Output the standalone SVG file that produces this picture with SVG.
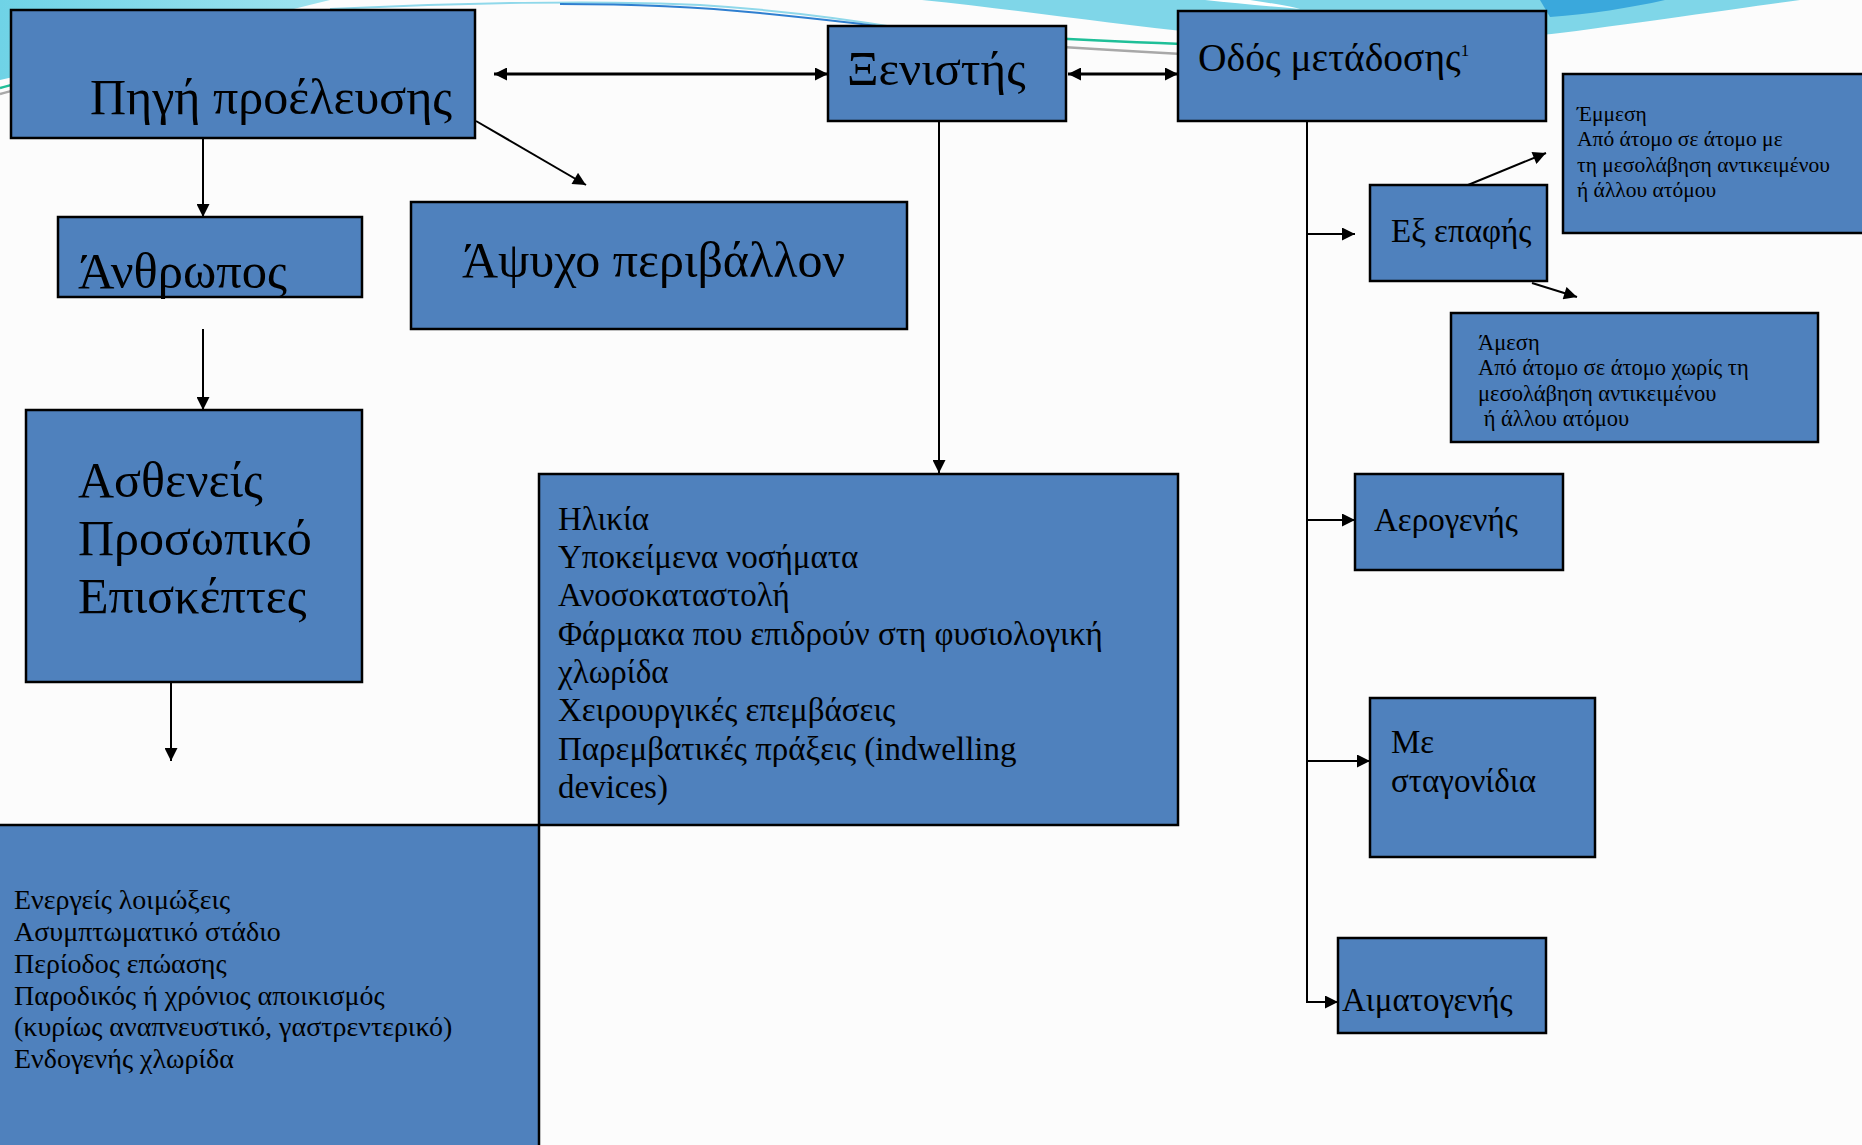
<svg xmlns="http://www.w3.org/2000/svg" width="1862" height="1145" viewBox="0 0 1862 1145">
<style>
.box{fill:#4F81BD;stroke:#000;stroke-width:2.5}
.t{font-family:"Liberation Serif","DejaVu Serif",serif;fill:#000}
.con{stroke:#000;stroke-width:2;fill:none}
.thick{stroke-width:3}
</style>
<defs>
<marker id="ah" viewBox="0 0 10 10" refX="10" refY="5" markerWidth="15" markerHeight="13" markerUnits="userSpaceOnUse" orient="auto-start-reverse">
<path d="M0,0 L10,5 L0,10 Z" fill="#000"/>
</marker>
<linearGradient id="cy" x1="0" y1="0" x2="1" y2="0">
<stop offset="0" stop-color="#6fd3e6"/>
<stop offset="1" stop-color="#9fe3ef"/>
</linearGradient>
</defs>
<rect x="0" y="0" width="1862" height="1145" fill="#fcfcfc"/>
<g id="decoration">
<path d="M0,0 L330,0 C230,25 110,55 0,80 Z" fill="url(#cy)"/>
<path d="M922,0 C1020,10 1110,24 1200,33 C1350,47 1480,42 1560,33 C1660,20 1740,8 1800,0 Z" fill="#7fd6e8"/>
<path d="M1540,0 L1665,0 C1630,8 1590,14 1550,17 Z" fill="#3aa8dc"/>
<path d="M1205,0 L1250,0 C1270,3 1290,6 1300,9 C1265,6 1235,3 1205,0 Z" fill="#ffffff"/>
<path d="M330,9 C450,3 600,0 700,5 C780,10 840,18 900,28" fill="none" stroke="#8fd8ea" stroke-width="2"/>
<path d="M560,4 C640,4 700,7 760,13 C810,18 850,22 900,29" fill="none" stroke="#2f7fd0" stroke-width="2"/>
<path d="M0,88 C8,86 14,84 30,80 M900,30 C980,35 1040,38 1182,44" fill="none" stroke="#1fbf98" stroke-width="2.5"/>
<path d="M0,94 C8,92 14,90 30,86 M900,36 C980,42 1040,46 1182,54" fill="none" stroke="#a8a8a8" stroke-width="2.5"/>
</g>
<g id="connectors">
<line class="con thick" x1="494" y1="74" x2="828" y2="74" marker-start="url(#ah)" marker-end="url(#ah)"/>
<line class="con thick" x1="1068" y1="74" x2="1178" y2="74" marker-start="url(#ah)" marker-end="url(#ah)"/>
<line class="con" x1="203" y1="138" x2="203" y2="217" marker-end="url(#ah)"/>
<line class="con" x1="476" y1="121" x2="586" y2="185" marker-end="url(#ah)"/>
<line class="con" x1="203" y1="329" x2="203" y2="410" marker-end="url(#ah)"/>
<line class="con" x1="171" y1="682" x2="171" y2="761" marker-end="url(#ah)"/>
<line class="con" x1="939" y1="121" x2="939" y2="473" marker-end="url(#ah)"/>
<line class="con" x1="1307" y1="121" x2="1307" y2="1002"/>
<line class="con" x1="1306" y1="234" x2="1355" y2="234" marker-end="url(#ah)"/>
<line class="con" x1="1306" y1="520" x2="1355" y2="520" marker-end="url(#ah)"/>
<line class="con" x1="1306" y1="761" x2="1370" y2="761" marker-end="url(#ah)"/>
<line class="con" x1="1306" y1="1002" x2="1338" y2="1002" marker-end="url(#ah)"/>
<line class="con" x1="1468" y1="185" x2="1546" y2="153" marker-end="url(#ah)"/>
<line class="con" x1="1532" y1="283" x2="1577" y2="297" marker-end="url(#ah)"/>
</g>
<g id="pigi">
<rect class="box" x="11" y="10" width="464" height="128"/>
<text class="t" x="90" y="114" font-size="50">Πηγή προέλευσης</text>
</g>
<g id="xenistis">
<rect class="box" x="828" y="26" width="238" height="95"/>
<text class="t" x="847" y="85" font-size="49">Ξενιστής</text>
</g>
<g id="odos">
<rect class="box" x="1178" y="11" width="368" height="110"/>
<text class="t" x="1198" y="71" font-size="39.5">Οδός μετάδοσης<tspan font-size="17" dy="-15">1</tspan></text>
</g>
<g id="emmesi">
<rect class="box" x="1563" y="74" width="310" height="159"/>
<text class="t" font-size="21.5"><tspan x="1577" y="121">Έμμεση</tspan><tspan x="1577" y="146">Από άτομο σε άτομο με</tspan><tspan x="1577" y="172">τη μεσολάβηση αντικειμένου</tspan><tspan x="1577" y="197">ή άλλου ατόμου</tspan></text>
</g>
<g id="exepafis">
<rect class="box" x="1370" y="185" width="177" height="96"/>
<text class="t" x="1391" y="242" font-size="33">Εξ επαφής</text>
</g>
<g id="amesi">
<rect class="box" x="1451" y="313" width="367" height="129"/>
<text class="t" font-size="22.5"><tspan x="1478" y="350">Άμεση</tspan><tspan x="1478" y="375">Από άτομο σε άτομο χωρίς τη</tspan><tspan x="1478" y="401">μεσολάβηση αντικειμένου</tspan><tspan x="1478" y="426"> ή άλλου ατόμου</tspan></text>
</g>
<g id="anthropos">
<rect class="box" x="58" y="217" width="304" height="80"/>
<text class="t" x="78" y="288" font-size="50.5">Άνθρωπος</text>
</g>
<g id="apsycho">
<rect class="box" x="411" y="202" width="496" height="127"/>
<text class="t" x="462" y="277" font-size="50">Άψυχο περιβάλλον</text>
</g>
<g id="astheneis">
<rect class="box" x="26" y="410" width="336" height="272"/>
<text class="t" font-size="50"><tspan x="78" y="497">Ασθενείς</tspan><tspan x="78" y="555">Προσωπικό</tspan><tspan x="78" y="613">Επισκέπτες</tspan></text>
</g>
<g id="paragontes">
<rect class="box" x="539" y="474" width="639" height="351"/>
<text class="t" font-size="33"><tspan x="558" y="530">Ηλικία</tspan><tspan x="558" y="568">Υποκείμενα νοσήματα</tspan><tspan x="558" y="606">Ανοσοκαταστολή</tspan><tspan x="558" y="645">Φάρμακα που επιδρούν στη φυσιολογική</tspan><tspan x="558" y="683">χλωρίδα</tspan><tspan x="558" y="721">Χειρουργικές επεμβάσεις</tspan><tspan x="558" y="760">Παρεμβατικές πράξεις (indwelling</tspan><tspan x="558" y="798">devices)</tspan></text>
</g>
<g id="loimoxeis">
<rect class="box" x="-3" y="825" width="542" height="330"/>
<text class="t" font-size="28"><tspan x="14" y="909">Ενεργείς λοιμώξεις</tspan><tspan x="14" y="941">Ασυμπτωματικό στάδιο</tspan><tspan x="14" y="973">Περίοδος επώασης</tspan><tspan x="14" y="1005">Παροδικός ή χρόνιος αποικισμός</tspan><tspan x="14" y="1036">(κυρίως αναπνευστικό, γαστρεντερικό)</tspan><tspan x="14" y="1068">Ενδογενής χλωρίδα</tspan></text>
</g>
<g id="aerogenis">
<rect class="box" x="1355" y="474" width="208" height="96"/>
<text class="t" x="1374" y="531" font-size="33">Αερογενής</text>
</g>
<g id="stagonidia">
<rect class="box" x="1370" y="698" width="225" height="159"/>
<text class="t" font-size="33"><tspan x="1391" y="753">Με</tspan><tspan x="1391" y="792">σταγονίδια</tspan></text>
</g>
<g id="aimatogenis">
<rect class="box" x="1338" y="938" width="208" height="95"/>
<text class="t" x="1342" y="1011" font-size="33">Αιματογενής</text>
</g>
</svg>
